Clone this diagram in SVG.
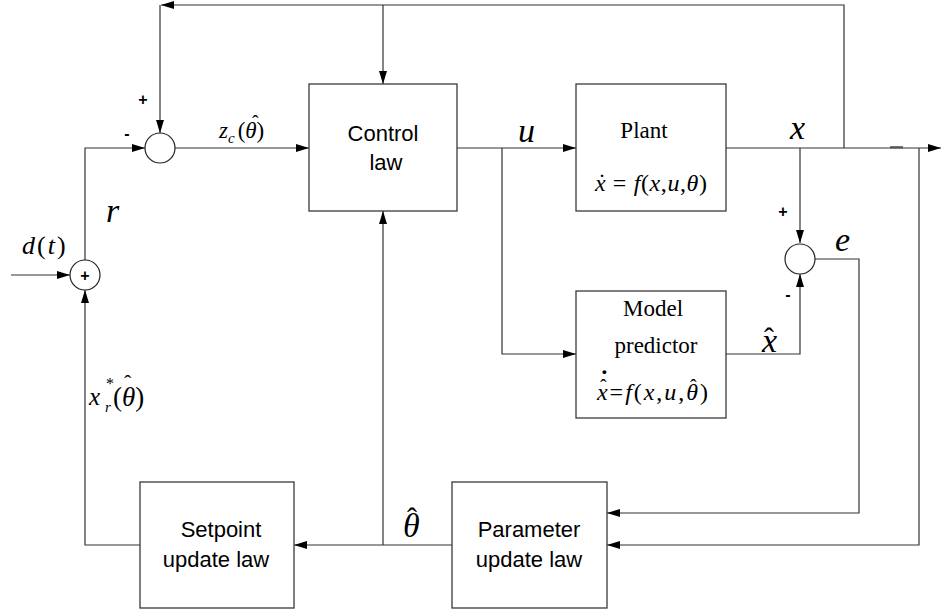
<svg xmlns="http://www.w3.org/2000/svg" width="941" height="611" viewBox="0 0 941 611">
<style>
.box{fill:#fff;stroke:#3a3a3a;stroke-width:1.3}
.ln{fill:none;stroke:#333;stroke-width:1.2}
.sum{fill:#fff;stroke:#222;stroke-width:1.2}
.t{font-family:"Liberation Sans",Arial,sans-serif;font-size:22px;fill:#000;text-anchor:middle}
.s{font-family:"Liberation Serif","Times New Roman",serif;fill:#000}
.m{font-family:"Liberation Serif","Times New Roman",serif;font-style:italic;fill:#000}
.u{font-style:normal}
.sg{font-family:"Liberation Sans",Arial,sans-serif;font-weight:bold;font-size:16px;fill:#000;text-anchor:middle}
</style>
<defs>
<marker id="ah" viewBox="0 0 13 8" refX="13" refY="4" markerWidth="13" markerHeight="8" markerUnits="userSpaceOnUse" orient="auto">
<path d="M0,0 L13,4 L0,8 Z" fill="#000"/>
</marker>
</defs>

<g id="connectors">
<path class="ln" d="M844,148 V5 H161" marker-end="url(#ah)"/>
<path class="ln" d="M160,5 V133" marker-end="url(#ah)"/>
<path class="ln" d="M383,5 V84" marker-end="url(#ah)"/>
<path class="ln" d="M11,275 H70" marker-end="url(#ah)"/>
<path class="ln" d="M85,260 V148 H145" marker-end="url(#ah)"/>
<path class="ln" d="M175,148 H309" marker-end="url(#ah)"/>
<path class="ln" d="M457,148 H576" marker-end="url(#ah)"/>
<path class="ln" d="M502,148 V354 H576" marker-end="url(#ah)"/>
<path class="ln" d="M726,148 H941" marker-end="url(#ah)"/>
<line x1="890" y1="147.3" x2="903" y2="147.3" stroke="#555" stroke-width="2.2"/>
<path class="ln" d="M800,148 V243" marker-end="url(#ah)"/>
<path class="ln" d="M919,148 V545 H607" marker-end="url(#ah)"/>
<path class="ln" d="M726,354 H800 V274" marker-end="url(#ah)"/>
<path class="ln" d="M815,259 H859 V513 H607" marker-end="url(#ah)"/>
<path class="ln" d="M452,545 H294" marker-end="url(#ah)"/>
<path class="ln" d="M383,545 V211" marker-end="url(#ah)"/>
<path class="ln" d="M140,545 H85 V290" marker-end="url(#ah)"/>
</g>

<g id="sum-top">
<circle class="sum" cx="160" cy="148" r="15"/>
<text class="sg" x="143" y="105">+</text>
<text class="sg" x="127" y="139">-</text>
</g>

<g id="sum-bottom">
<circle class="sum" cx="85" cy="275" r="15"/>
<text class="sg" x="85" y="281">+</text>
</g>

<g id="sum-right">
<circle class="sum" cx="800" cy="259" r="15"/>
<text class="sg" x="783" y="217">+</text>
<text class="sg" x="788" y="300">-</text>
</g>

<g id="control-law">
<rect class="box" x="309" y="84" width="148" height="127"/>
<text class="t" x="383" y="141">Control</text>
<text class="t" x="386" y="170">law</text>
</g>

<g id="plant">
<rect class="box" x="576" y="84" width="150" height="127"/>
<text class="s" font-size="23" x="644" y="138" text-anchor="middle">Plant</text>
<text class="m" font-size="24" x="595" y="191" textLength="112" lengthAdjust="spacing">x<tspan class="u"> = </tspan>f<tspan class="u">(</tspan>x<tspan class="u">,</tspan>u<tspan class="u">,</tspan>θ<tspan class="u">)</tspan></text>
<text class="s" font-size="24" x="598" y="190">˙</text>
</g>

<g id="model-predictor">
<rect class="box" x="576" y="291" width="150" height="127"/>
<text class="s" font-size="23" x="653" y="316" text-anchor="middle">Model</text>
<text class="s" font-size="23" x="656" y="353" text-anchor="middle">predictor</text>
<text class="m" font-size="24" x="597" y="400" textLength="111" lengthAdjust="spacing">x<tspan class="u">=</tspan>f<tspan class="u">(</tspan>x<tspan class="u">,</tspan>u<tspan class="u">,</tspan>θ<tspan class="u">)</tspan></text>
<text class="s" font-size="20" x="600" y="394">ˆ</text>
<text class="s" font-size="26" font-weight="bold" x="600" y="388">˙</text>
<text class="s" font-size="20" x="690" y="394">ˆ</text>
</g>

<g id="setpoint-update-law">
<rect class="box" x="140" y="482" width="154" height="126"/>
<text class="t" x="221" y="537">Setpoint</text>
<text class="t" x="216" y="567">update law</text>
</g>

<g id="parameter-update-law">
<rect class="box" x="452" y="482" width="155" height="126"/>
<text class="t" x="529" y="537">Parameter</text>
<text class="t" x="529" y="567">update law</text>
</g>

<g id="labels">
<text class="m" font-size="34" x="106" y="222">r</text>
<text class="m" font-size="26" x="22" y="254" letter-spacing="2">d<tspan class="u">(</tspan>t<tspan class="u">)</tspan></text>
<text class="m" font-size="23" x="219" y="138">z<tspan font-size="15" dy="5">c</tspan><tspan class="u" dy="-5" dx="3">(</tspan>θ<tspan class="u">)</tspan></text>
<text class="s" font-size="20" x="252" y="130">ˆ</text>
<text class="m" font-size="34" x="518" y="142">u</text>
<text class="m" font-size="34" x="790" y="139">x</text>
<text class="m" font-size="34" x="835" y="251">e</text>
<text class="m" font-size="34" x="762" y="352">x</text>
<text class="s" font-size="30" x="764" y="348">ˆ</text>
<text class="m" font-size="34" x="403" y="537">θ</text>
<text class="s" font-size="30" x="407" y="528">ˆ</text>
<text class="m" font-size="25" x="89" y="405">x</text>
<text class="m" font-size="15" x="105" y="412">r</text>
<text class="s" font-size="16" x="106" y="389">*</text>
<text class="s" font-size="27" x="113" y="406">(<tspan class="m">θ</tspan>)</text>
<text class="s" font-size="22" x="124" y="390">ˆ</text>
</g>
</svg>
